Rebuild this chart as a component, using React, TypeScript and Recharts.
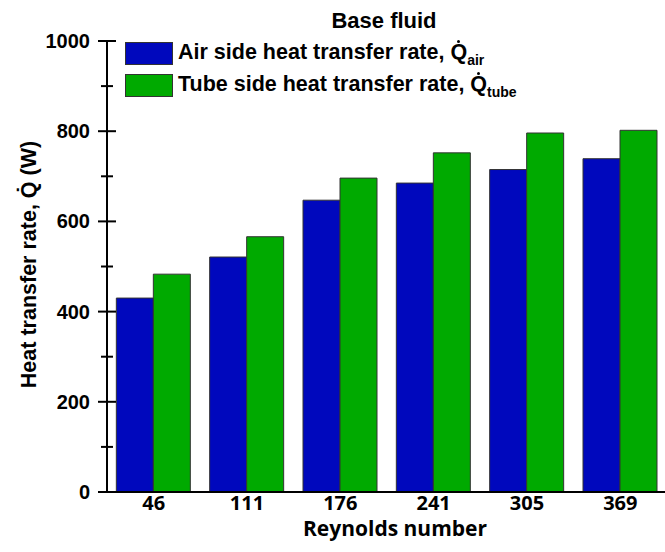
import React from 'react';
import { BarChart, Bar, XAxis, YAxis, Legend, ReferenceLine } from 'recharts';

const reynolds = ['46', '111', '176', '241', '305', '369'];
const airSide = [430, 521, 647, 685, 715, 739];
const tubeSide = [483, 566, 696, 752, 796, 802];
const yTicks = [0, 100, 200, 300, 400, 500, 600, 700, 800, 900, 1000];

const data = reynolds.map((re, i) => ({ re, air: airSide[i], tube: tubeSide[i] }));

const AIR = '#0008bd';
const TUBE = '#00aa00';
const arial = '"Liberation Sans", Arial, sans-serif';

function QDot() {
  return (
    <span style={{ position: 'relative', display: 'inline-block' }}>
      Q
      <span
        style={{
          position: 'absolute',
          left: '50%',
          top: -1,
          width: 3,
          height: 3,
          marginLeft: -1.5,
          borderRadius: 2,
          background: '#000',
        }}
      />
    </span>
  );
}

function LegendBox() {
  const rows = [
    { color: AIR, text: 'Air side heat transfer rate, ', sub: 'air' },
    { color: TUBE, text: 'Tube side heat transfer rate, ', sub: 'tube' },
  ];
  return (
    <div style={{ position: 'relative', width: 665, height: 100, fontFamily: arial, fontWeight: 700, color: '#000' }}>
      <div style={{ position: 'absolute', left: 0, width: 768, top: 8, textAlign: 'center', fontSize: 22, lineHeight: '26px' }}>
        Base fluid
      </div>
      {rows.map((r, i) => (
        <div
          key={r.sub}
          style={{ position: 'absolute', left: 125, top: 42 + i * 32, display: 'flex', alignItems: 'center', height: 23 }}
        >
          <div style={{ width: 46, height: 21, background: r.color, border: '1px solid #333' }} />
          <div style={{ marginLeft: 5, fontSize: 21.5, whiteSpace: 'nowrap', lineHeight: '23px' }}>
            {r.text}
            <QDot />
            <span style={{ fontSize: 14, position: 'relative', top: 6 }}>{r.sub}</span>
          </div>
        </div>
      ))}
    </div>
  );
}

function YTick(props: any) {
  const { x, y, payload } = props;
  if (payload.value % 200 !== 0) return <g />;
  return (
    <text x={x - 17} y={y} textAnchor="end" dominantBaseline="central" fontFamily={arial} fontWeight={700} fontSize={20} fill="#000">
      {payload.value}
    </text>
  );
}

// crossing tick mark drawn on the y axis line
function tickShape(value: number) {
  return (props: any) => {
    const { x1, y1 } = props;
    const len = value % 200 === 0 ? 9 : 6;
    return <line x1={x1 - len} x2={x1 + len} y1={y1} y2={y1} stroke="#000" strokeWidth={2} />;
  };
}

function XTick(props: any) {
  const { x, y, payload } = props;
  return (
    <text x={x} y={y + 10} textAnchor="middle" dominantBaseline="central" fontFamily='"Open Sans", sans-serif' fontWeight={700} fontSize={20} fill="#000">
      {payload.value}
    </text>
  );
}

function YLabel(props: any) {
  const { viewBox } = props;
  const cx = 29;
  const cy = viewBox.y + viewBox.height / 2 - 2;
  return (
    <text
      x={cx}
      y={cy}
      transform={`rotate(-90 ${cx} ${cy})`}
      textAnchor="middle"
      dominantBaseline="central"
      fontFamily={arial}
      fontWeight={700}
      fontSize={21.5}
      fill="#000"
    >
      {'Heat transfer rate, Q\u0307 (W)'}
    </text>
  );
}

function XLabel(props: any) {
  const { viewBox } = props;
  return (
    <text
      x={viewBox.x + viewBox.width / 2 + 8}
      y={viewBox.y + 36}
      textAnchor="middle"
      dominantBaseline="central"
      fontFamily='"Open Sans", sans-serif'
      fontWeight={700}
      fontSize={21}
      fill="#000"
    >
      Reynolds number
    </text>
  );
}

export default function App() {
  return (
    <div style={{ position: 'fixed', left: 0, top: 0, width: 665, height: 552, overflow: 'hidden', background: '#fff' }}>
      <BarChart
        width={672}
        height={552}
        data={data}
        margin={{ top: 41, right: 5, left: 0, bottom: 0 }}
        barCategoryGap="10%"
        barGap={0}
      >
        <XAxis
          dataKey="re"
          height={60}
          axisLine={{ stroke: '#000', strokeWidth: 2 }}
          tickLine={false}
          tickSize={0}
          tickMargin={0}
          tick={<XTick />}
          label={<XLabel />}
        />
        <YAxis
          type="number"
          domain={[0, 1000]}
          ticks={yTicks}
          interval={0}
          width={107}
          axisLine={{ stroke: '#000', strokeWidth: 2 }}
          tickLine={false}
          tickSize={0}
          tickMargin={0}
          tick={<YTick />}
          label={<YLabel />}
        />
        <Legend
          content={() => <LegendBox />}
          wrapperStyle={{ position: 'absolute', left: 0, top: 0, width: 665, height: 0 }}
        />
        <Bar dataKey="air" name="Air side heat transfer rate" fill={AIR} stroke="#333" strokeWidth={1} isAnimationActive={false} />
        <Bar dataKey="tube" name="Tube side heat transfer rate" fill={TUBE} stroke="#333" strokeWidth={1} isAnimationActive={false} />
        {yTicks.map((t) => (
          <ReferenceLine key={t} y={t} shape={tickShape(t)} />
        ))}
      </BarChart>
    </div>
  );
}
